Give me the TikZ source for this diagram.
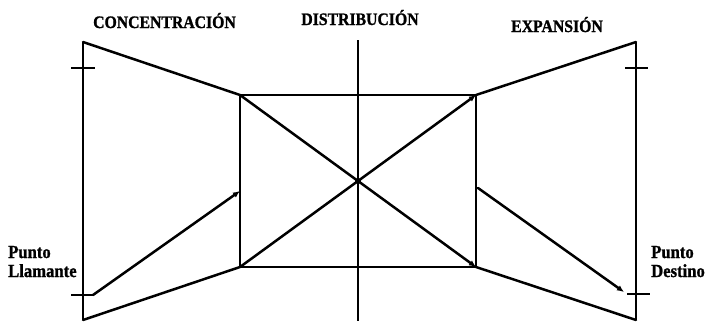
\documentclass[tikz,border=0pt]{standalone}
\usepackage{fontspec}
\setmainfont{Liberation Serif}
\usetikzlibrary{arrows.meta}
\begin{document}
\begin{tikzpicture}[x=1pt,y=-1pt,
  thick line/.style={line width=2.5pt, line cap=round, line join=round},
  thin line/.style={line width=1.8pt},
  tip/.style={-{Latex[length=7pt,width=6pt]}},
  title/.style={font=\addfontfeature{FakeStretch=0.9,FakeBold=1.2}\bfseries\fontsize{17.5}{19}\selectfont, inner sep=0pt, anchor=base},
  label/.style={font=\addfontfeature{FakeStretch=0.9,FakeBold=1.2}\bfseries\fontsize{18.5}{19}\selectfont, inner sep=0pt, align=left, anchor=base west}]
\useasboundingbox (0,0) rectangle (707,324);
% coordinates
\coordinate (LT) at (83,42);
\coordinate (LB) at (83,320);
\coordinate (RT) at (636,42);
\coordinate (RB) at (636,320);
\coordinate (A) at (240,95);
\coordinate (B) at (476,95);
\coordinate (C) at (476,267);
\coordinate (D) at (240,267);
\coordinate (M) at (358,181);
\coordinate (CT) at (358,40);
\coordinate (CB) at (358,321);
\coordinate (LtickA1) at (71,68);
\coordinate (LtickA2) at (95,68);
\coordinate (LtickB1) at (71,295);
\coordinate (LtickB2) at (93,295);
\coordinate (RtickA1) at (625,68);
\coordinate (RtickA2) at (648,68);
\coordinate (RtickB1) at (627,294);
\coordinate (RtickB2) at (650,294);
\coordinate (Lend) at (240,191);
\coordinate (Rstart) at (478,188);
\coordinate (Rend) at (624,292);
% outer verticals and ticks
\draw[thin line] (LT) -- (LB);
\draw[thin line] (RT) -- (RB);
\draw[thin line] (CT) -- (CB);
\draw[thin line] (LtickA1) -- (LtickA2);
\draw[thin line] (LtickB1) -- (LtickB2);
\draw[thin line] (RtickA1) -- (RtickA2);
\draw[thin line] (RtickB1) -- (RtickB2);
% rectangle
\draw[thin line] (A) -- (B);
\draw[thin line] (D) -- (C);
\draw[thick line] (A) -- (D);
\draw[thick line] (B) -- (C);
% trapezoid sides
\draw[thick line] (LT) -- (A);
\draw[thick line] (LB) -- (D);
\draw[thick line] (RT) -- (B);
\draw[thick line] (RB) -- (C);
% diagonals
\draw[thick line, tip] (A) -- (M) -- (C);
\draw[thick line, tip] (D) -- (M) -- (B);
\fill (M) circle (3pt);
% calling and destination lines
\draw[thick line, tip] (LtickB2) -- (Lend);
\draw[thick line, tip] (Rstart) -- (Rend);
% texts
\node[title] (t1) at (164.5,28) {CONCENTRACIÓN};
\node[title] (t2) at (360,25) {DISTRIBUCIÓN};
\node[title] (t3) at (557,32) {EXPANSIÓN};
\node[label] (p1) at (8,277) {Punto\\Llamante};
\node[label] (p2) at (651,277) {Punto\\Destino};
\end{tikzpicture}
\end{document}
